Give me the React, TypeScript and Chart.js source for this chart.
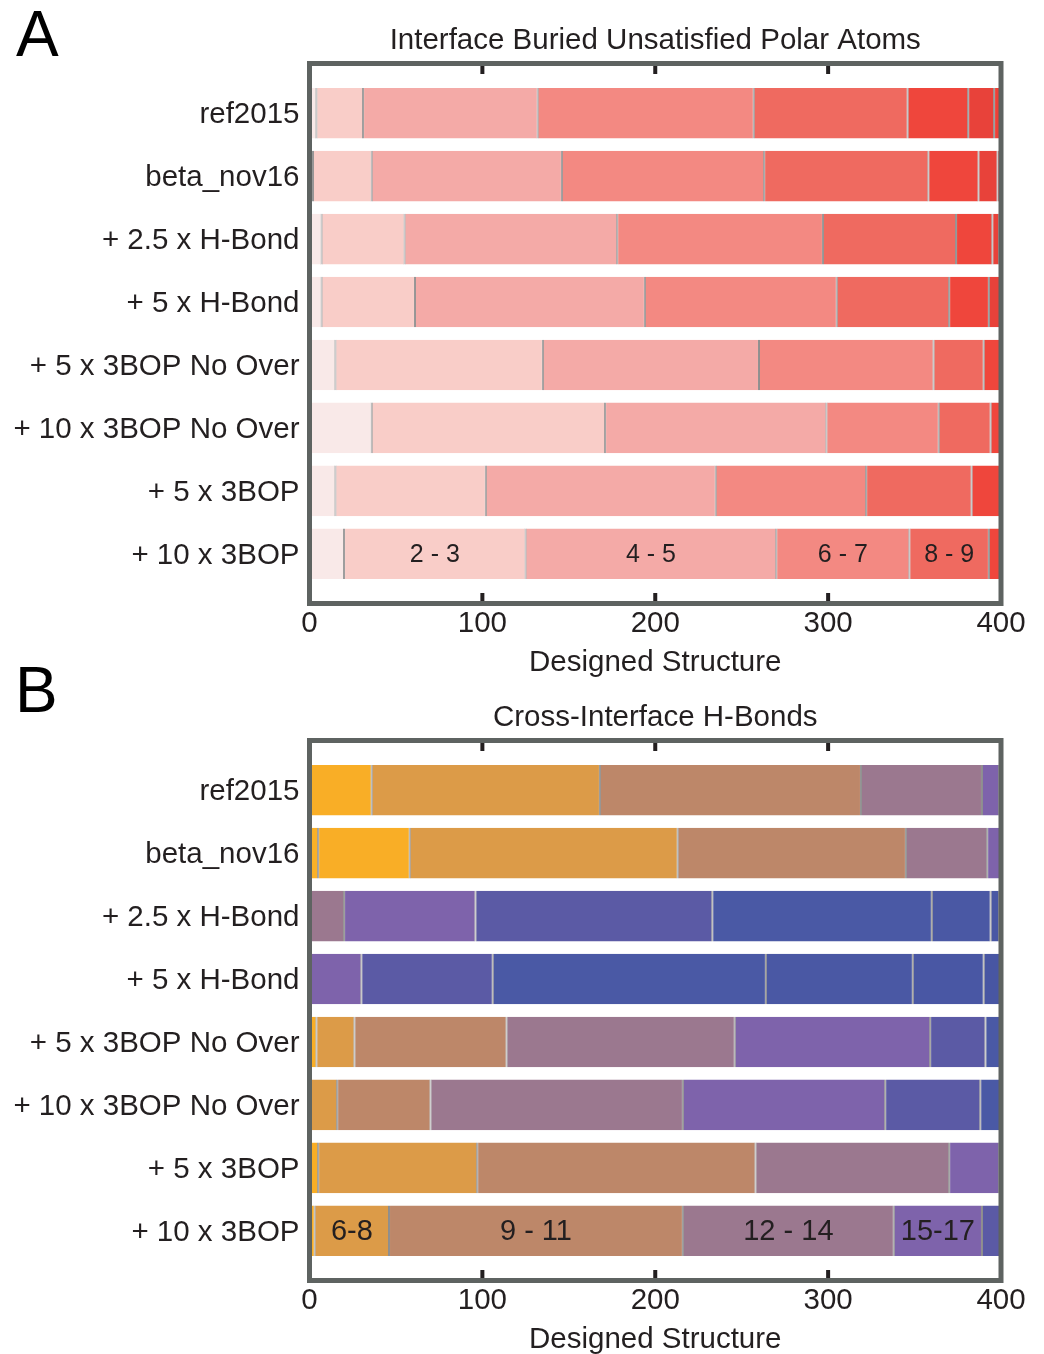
import React, { useEffect, useRef } from "react";
import { Chart, registerables } from "chart.js";

Chart.register(...registerables);

const FONT = '"Liberation Sans", Arial, Helvetica, sans-serif';
const TEXT = "#231f20";

// ---------- shared ----------
const categories = [
  "ref2015",
  "beta_nov16",
  "+ 2.5 x H-Bond",
  "+ 5 x H-Bond",
  "+ 5 x 3BOP No Over",
  "+ 10 x 3BOP No Over",
  "+ 5 x 3BOP",
  "+ 10 x 3BOP",
];
const xTicks = [0, 100, 200, 300, 400];
const xLabel = "Designed Structure";

// ---------- panel A: buried unsatisfied polar atoms ----------
const titleA = "Interface Buried Unsatisfied Polar Atoms";
const binsA = ["0 - 1", "2 - 3", "4 - 5", "6 - 7", "8 - 9", "10 - 11", "12 - 13", "14+"];
const colorsA = ["#f9e9e8", "#f9cdc8", "#f4aaa7", "#f38982", "#ef6a60", "#ef463c", "#e8423a", "#ee4037"];
const bu0_1 = [4, 2, 7, 7, 15, 36, 15, 20];
const bu2_3 = [27, 34, 48, 54, 120, 135, 87, 105];
const bu4_5 = [101, 110, 123, 133, 125, 128, 133, 145];
const bu6_7 = [125, 117, 119, 111, 101, 65, 87, 77];
const bu8_9 = [89, 95, 77, 65, 29, 30, 61, 46];
const bu10_11 = [35, 29, 21, 23, 10, 6, 17, 7];
const bu12_13 = [15, 11, 4, 7, 0, 0, 0, 0];
const bu14p = [4, 2, 1, 0, 0, 0, 0, 0];
const valuesA = [bu0_1, bu2_3, bu4_5, bu6_7, bu8_9, bu10_11, bu12_13, bu14p];
const labeledBinsA = [1, 2, 3, 4];

// ---------- panel B: cross-interface H-bonds ----------
const titleB = "Cross-Interface H-Bonds";
const binsB = ["0-2", "3-5", "6-8", "9 - 11", "12 - 14", "15-17", "18-20", "21-23", "24-26", "27-29", "30+"];
const colorsB = ["#fbb127", "#f9ae26", "#dc9b48", "#bd8769", "#9b788f", "#7e63ab", "#5b5aa5", "#4a59a5", "#4a58a4", "#4957a4", "#4856a3"];
const hb0_2 = [0, 5, 0, 0, 0, 0, 0, 0];
const hb3_5 = [36, 53, 0, 0, 4, 0, 5, 3];
const hb6_8 = [132, 155, 0, 0, 22, 16, 92, 43];
const hb9_11 = [151, 132, 0, 0, 88, 54, 161, 170];
const hb12_14 = [70, 47, 20, 0, 132, 146, 112, 122];
const hb15_17 = [10, 8, 76, 30, 113, 117, 29, 51];
const hb18_20 = [1, 0, 137, 76, 32, 55, 1, 11];
const hb21_23 = [0, 0, 127, 158, 9, 12, 0, 0];
const hb24_26 = [0, 0, 34, 85, 0, 0, 0, 0];
const hb27_29 = [0, 0, 5, 41, 0, 0, 0, 0];
const hb30p = [0, 0, 1, 10, 0, 0, 0, 0];
const valuesB = [hb0_2, hb3_5, hb6_8, hb9_11, hb12_14, hb15_17, hb18_20, hb21_23, hb24_26, hb27_29, hb30p];
const labeledBinsB = [2, 3, 4, 5];

type PanelCfg = {
  title: string;
  bins: string[];
  colors: string[];
  values: number[][];
  labeled: number[];
  labelSize: number;
};

const panelA: PanelCfg = { title: titleA, bins: binsA, colors: colorsA, values: valuesA, labeled: labeledBinsA, labelSize: 25 };
const panelB: PanelCfg = { title: titleB, bins: binsB, colors: colorsB, values: valuesB, labeled: labeledBinsB, labelSize: 29 };

const Y_MIN = -0.79;
const Y_MAX = 7.79;

function buildConfig(p: PanelCfg): any {
  const decor = {
    id: "decor",
    afterDatasetsDraw(chart: any) {
      const { ctx, chartArea: ca, scales } = chart;
      ctx.save();
      // in-bar bin labels on the last row
      ctx.fillStyle = TEXT;
      ctx.font = `${p.labelSize}px ${FONT}`;
      ctx.textAlign = "center";
      ctx.textBaseline = "middle";
      const last = categories.length - 1;
      p.labeled.forEach((ds) => {
        const el = chart.getDatasetMeta(ds).data[last];
        if (!el) return;
        ctx.fillText(p.bins[ds], (el.x + el.base) / 2, el.y + 1);
      });
      // frame
      ctx.lineWidth = 5;
      ctx.strokeStyle = "#5e6361";
      ctx.strokeRect(ca.left, ca.top, ca.right - ca.left, ca.bottom - ca.top);
      // inner tick marks
      ctx.fillStyle = TEXT;
      xTicks.slice(1, -1).forEach((v) => {
        const px = scales.x.getPixelForValue(v);
        ctx.fillRect(px - 2, ca.top + 2.5, 4, 8);
        ctx.fillRect(px - 2, ca.bottom - 10.5, 4, 8);
      });
      // title and x label
      ctx.font = `29.5px ${FONT}`;
      ctx.textBaseline = "alphabetic";
      const cx = (ca.left + ca.right) / 2;
      ctx.fillText(p.title, cx, 49);
      ctx.fillText(xLabel, cx, 671);
      ctx.restore();
    },
  };

  return {
    type: "bar",
    data: {
      datasets: p.bins.map((b, i) => ({
        label: b,
        data: p.values[i].map((v, j) => ({ x: v, y: j })),
        backgroundColor: p.colors[i],
        borderColor: "#8e8e8e",
        borderWidth: { left: 1, right: 1, top: 0, bottom: 0 },
        borderSkipped: false,
        barPercentage: 0.805,
        categoryPercentage: 1,
      })),
    },
    options: {
      indexAxis: "y",
      animation: false,
      responsive: false,
      maintainAspectRatio: false,
      layout: { padding: { top: 63.5, right: 43, left: 0, bottom: 0 } },
      plugins: {
        legend: { display: false },
        tooltip: { enabled: false },
        title: { display: false },
      },
      scales: {
        x: {
          type: "linear",
          stacked: true,
          position: "bottom",
          offset: false,
          min: 0,
          max: 400,
          grid: { display: false, drawTicks: false, offset: false },
          border: { display: false },
          ticks: {
            stepSize: 100,
            color: TEXT,
            font: { family: FONT, size: 29.5 },
            padding: 3,
            maxRotation: 0,
          },
          afterBuildTicks: (s: any) => {
            s.ticks = xTicks.map((v) => ({ value: v }));
          },
          afterFit: (s: any) => {
            s.height = 73.5;
          },
        },
        y: {
          type: "linear",
          stacked: true,
          reverse: true,
          offset: false,
          bounds: "data",
          min: Y_MIN,
          max: Y_MAX,
          grid: { display: false, drawTicks: false, offset: false },
          border: { display: false },
          ticks: {
            color: TEXT,
            font: { family: FONT, size: 29.5 },
            padding: 10,
            labelOffset: 2,
            autoSkip: false,
            callback: (v: any) => categories[v] ?? "",
          },
          afterBuildTicks: (s: any) => {
            s.ticks = categories.map((_, i) => ({ value: i }));
            s.min = Y_MIN;
            s.max = Y_MAX;
          },
          afterFit: (s: any) => {
            s.width = 309.5;
          },
        },
      },
    },
    plugins: [decor],
  };
}

function Panel({ top, cfg }: { top: number; cfg: PanelCfg }) {
  const ref = useRef<HTMLCanvasElement>(null);
  useEffect(() => {
    const chart = new Chart(ref.current as HTMLCanvasElement, buildConfig(cfg));
    return () => chart.destroy();
  }, [cfg]);
  return (
    <canvas
      ref={ref}
      width={1044}
      height={677}
      style={{ position: "absolute", left: 0, top, width: 1044, height: 677 }}
    />
  );
}

const letterStyle: React.CSSProperties = {
  position: "absolute",
  fontFamily: FONT,
  fontSize: 64,
  lineHeight: "64px",
  color: "#000",
};

export default function App() {
  return (
    <div style={{ position: "absolute", left: 0, top: 0, width: 1044, height: 1354, background: "#fff", overflow: "hidden" }}>
      <Panel top={0} cfg={panelA} />
      <Panel top={677} cfg={panelB} />
      <div style={{ ...letterStyle, left: 16, top: 2 }}>A</div>
      <div style={{ ...letterStyle, left: 15, top: 658 }}>B</div>
    </div>
  );
}
